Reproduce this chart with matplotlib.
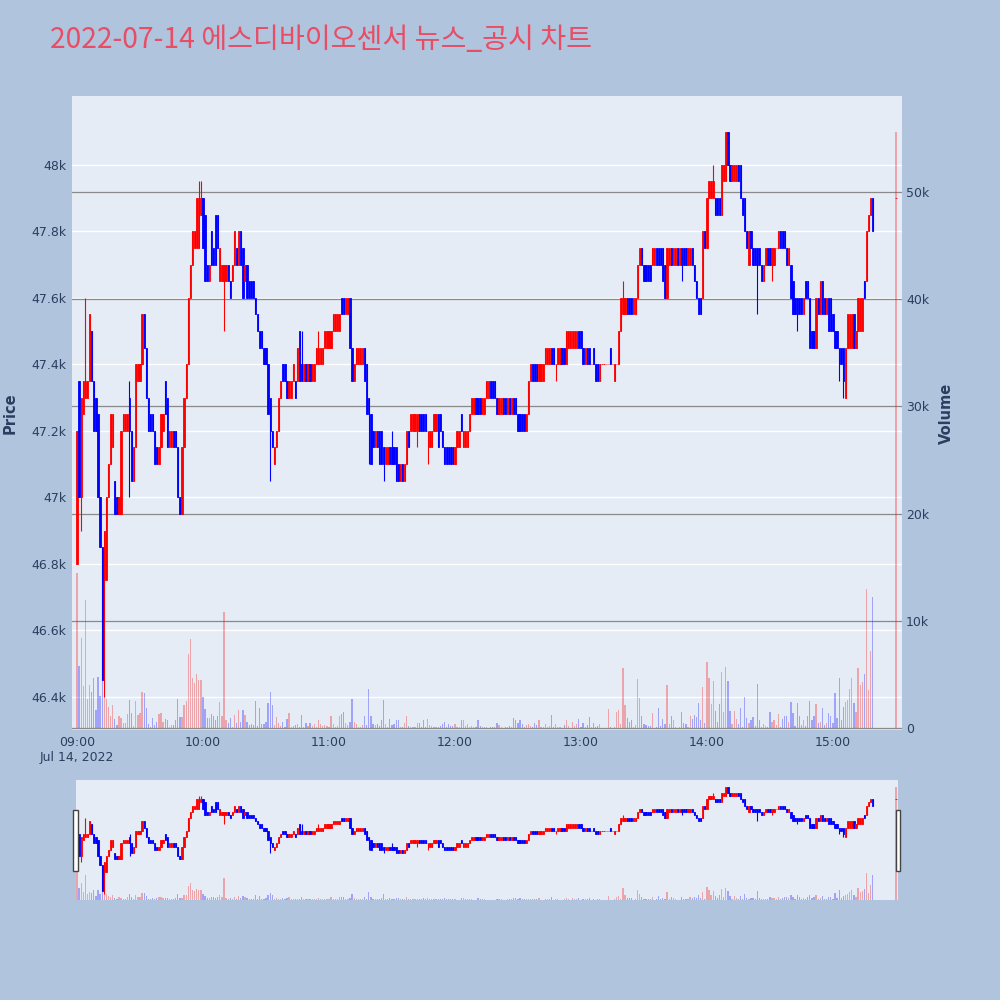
import numpy as np
import matplotlib
matplotlib.use("Agg")
import matplotlib.pyplot as plt
from matplotlib.patches import Rectangle

plt.rcParams['font.family'] = ['DejaVu Sans']

# ---------------- data ----------------
TITLE = "2022-07-14 에스디바이오센서 뉴스_공시 차트"

# minutes after 09:00 (09:00..15:19, then closing auction at 15:30)
minutes = list(range(0, 380)) + [390]

opens = [
    46800, 47350, 47000, 47250, 47300, 47300, 47350, 47500, 47350, 47300,
    47250, 47000, 46850, 46750, 46750, 47000, 47100, 47150, 47050, 47000,
    46950, 46950, 47200, 47200, 47200, 47300, 47200, 47050, 47150, 47350,
    47350, 47400, 47550, 47450, 47300, 47250, 47250, 47200, 47150, 47100,
    47150, 47200, 47350, 47300, 47150, 47150, 47200, 47200, 47150, 47000,
    46950, 47150, 47300, 47400, 47600, 47700, 47750, 47750, 47750, 47850,
    47900, 47850, 47700, 47650, 47800, 47750, 47850, 47850, 47650, 47650,
    47650, 47650, 47700, 47650, 47650, 47700, 47750, 47700, 47800, 47750,
    47650, 47700, 47650, 47650, 47650, 47600, 47550, 47500, 47500, 47450,
    47450, 47400, 47300, 47200, 47100, 47150, 47200, 47300, 47400, 47400,
    47350, 47300, 47300, 47350, 47350, 47350, 47500, 47400, 47350, 47400,
    47350, 47400, 47350, 47350, 47400, 47400, 47400, 47400, 47450, 47450,
    47450, 47450, 47500, 47500, 47500, 47500, 47600, 47600, 47550, 47550,
    47600, 47450, 47350, 47400, 47400, 47400, 47400, 47450, 47400, 47300,
    47250, 47200, 47150, 47200, 47200, 47200, 47150, 47100, 47100, 47150,
    47150, 47150, 47150, 47100, 47050, 47100, 47050, 47100, 47200, 47200,
    47200, 47200, 47200, 47250, 47250, 47250, 47250, 47200, 47150, 47150,
    47200, 47200, 47250, 47250, 47200, 47150, 47150, 47150, 47150, 47150,
    47100, 47150, 47150, 47250, 47150, 47150, 47150, 47200, 47250, 47250,
    47300, 47300, 47300, 47250, 47250, 47300, 47300, 47350, 47350, 47350,
    47300, 47250, 47250, 47300, 47300, 47250, 47300, 47250, 47300, 47300,
    47250, 47250, 47250, 47250, 47200, 47250, 47350, 47400, 47400, 47400,
    47350, 47350, 47350, 47400, 47400, 47400, 47450, 47450, 47400, 47400,
    47400, 47450, 47450, 47400, 47450, 47450, 47450, 47450, 47450, 47500,
    47500, 47450, 47400, 47450, 47450, 47400, 47450, 47400, 47400, 47350,
    47400, 47400, 47400, 47400, 47450, 47400, 47350, 47400, 47400, 47500,
    47550, 47550, 47600, 47600, 47600, 47550, 47550, 47600, 47700, 47750,
    47700, 47700, 47700, 47700, 47700, 47700, 47750, 47750, 47750, 47750,
    47700, 47600, 47700, 47750, 47700, 47700, 47750, 47700, 47750, 47750,
    47750, 47700, 47700, 47750, 47700, 47650, 47600, 47600, 47600, 47800,
    47750, 47900, 47900, 47900, 47900, 47900, 47900, 47850, 47950, 47950,
    48100, 48000, 47950, 47950, 47950, 48000, 48000, 47900, 47900, 47800,
    47700, 47800, 47750, 47750, 47750, 47750, 47700, 47650, 47700, 47750,
    47750, 47700, 47700, 47750, 47750, 47800, 47800, 47800, 47750, 47700,
    47700, 47650, 47600, 47600, 47600, 47600, 47550, 47650, 47650, 47600,
    47500, 47500, 47450, 47600, 47550, 47650, 47600, 47550, 47600, 47600,
    47550, 47500, 47500, 47450, 47450, 47450, 47300, 47450, 47450, 47450,
    47550, 47450, 47500, 47500, 47500, 47650, 47650, 47800, 47850, 47900,
    47900,
]

closes = [
    47200, 47000, 47300, 47350, 47350, 47350, 47550, 47350, 47200, 47200,
    47000, 46850, 46450, 46900, 47000, 47100, 47250, 47250, 46950, 46950,
    47000, 47200, 47250, 47250, 47250, 47200, 47050, 47150, 47400, 47400,
    47400, 47550, 47450, 47300, 47200, 47200, 47200, 47100, 47100, 47150,
    47250, 47250, 47250, 47150, 47200, 47200, 47150, 47150, 47000, 46950,
    47150, 47300, 47400, 47600, 47700, 47800, 47800, 47900, 47900, 47900,
    47750, 47650, 47650, 47700, 47700, 47700, 47700, 47750, 47750, 47700,
    47700, 47700, 47650, 47600, 47700, 47800, 47700, 47800, 47700, 47600,
    47700, 47600, 47600, 47600, 47600, 47550, 47500, 47450, 47450, 47400,
    47400, 47250, 47200, 47150, 47150, 47200, 47300, 47350, 47350, 47350,
    47300, 47350, 47350, 47400, 47300, 47450, 47350, 47350, 47400, 47350,
    47400, 47350, 47400, 47400, 47450, 47450, 47450, 47450, 47500, 47500,
    47500, 47500, 47550, 47550, 47550, 47550, 47550, 47550, 47600, 47600,
    47450, 47350, 47400, 47450, 47450, 47450, 47450, 47350, 47250, 47250,
    47100, 47150, 47200, 47150, 47100, 47100, 47100, 47150, 47150, 47100,
    47100, 47100, 47050, 47050, 47100, 47050, 47100, 47200, 47150, 47250,
    47250, 47250, 47250, 47200, 47200, 47200, 47200, 47200, 47200, 47200,
    47250, 47250, 47150, 47200, 47150, 47100, 47100, 47100, 47100, 47100,
    47150, 47200, 47200, 47200, 47200, 47200, 47200, 47250, 47300, 47300,
    47250, 47250, 47250, 47300, 47300, 47350, 47350, 47300, 47300, 47300,
    47250, 47300, 47300, 47250, 47250, 47300, 47250, 47300, 47250, 47250,
    47200, 47200, 47200, 47200, 47250, 47350, 47400, 47350, 47350, 47350,
    47400, 47400, 47400, 47450, 47450, 47450, 47400, 47400, 47400, 47450,
    47450, 47400, 47400, 47500, 47500, 47500, 47500, 47500, 47500, 47450,
    47450, 47400, 47450, 47400, 47400, 47400, 47400, 47350, 47350, 47400,
    47400, 47400, 47400, 47400, 47400, 47400, 47400, 47400, 47500, 47600,
    47600, 47600, 47550, 47550, 47550, 47600, 47600, 47700, 47750, 47700,
    47650, 47650, 47650, 47650, 47750, 47750, 47700, 47700, 47700, 47650,
    47600, 47750, 47750, 47700, 47750, 47750, 47700, 47750, 47700, 47700,
    47700, 47750, 47750, 47700, 47650, 47600, 47550, 47550, 47800, 47750,
    47900, 47950, 47950, 47950, 47850, 47850, 47850, 48000, 48000, 48100,
    48000, 47950, 48000, 48000, 48000, 47950, 47900, 47850, 47800, 47750,
    47800, 47750, 47700, 47700, 47700, 47700, 47650, 47700, 47750, 47700,
    47700, 47750, 47750, 47750, 47800, 47750, 47750, 47750, 47700, 47750,
    47600, 47550, 47550, 47550, 47550, 47550, 47600, 47600, 47600, 47450,
    47450, 47450, 47600, 47550, 47650, 47550, 47550, 47600, 47500, 47500,
    47500, 47450, 47450, 47400, 47400, 47350, 47450, 47550, 47550, 47550,
    47450, 47500, 47600, 47600, 47600, 47600, 47800, 47850, 47900, 47800,
    47900,
]

# extra wick extremes (minute index -> price)
extra_high = {4: 47600, 25: 47350, 58: 47950, 59: 47950, 66: 47850, 67: 47850,
              107: 47500, 115: 47500, 150: 47200, 260: 47650, 303: 48000}
extra_low = {2: 46900, 13: 46400, 25: 47000, 70: 47500, 92: 47050, 139: 47100,
             146: 47050, 162: 47150, 167: 47100, 228: 47350, 288: 47650,
             324: 47550, 331: 47650, 343: 47500, 363: 47350, 365: 47300}

# volume in thousands of shares
volume_k = [
    14.5, 5.8, 8.4, 3.9, 11.9, 2.7, 4.0, 3.4, 4.7, 1.7,
    4.8, 3.0, 4.5, 2.9, 2.7, 2.0, 1.1, 2.1, 0.8, 0.3,
    1.1, 0.9, 0.5, 0.5, 1.3, 2.6, 1.4, 0.2, 2.5, 1.2,
    1.4, 3.4, 3.3, 1.9, 0.4, 0.1, 0.9, 0.3, 0.6, 1.3,
    1.4, 0.6, 0.8, 0.7, 0.1, 0.3, 0.3, 0.75, 2.7, 1.0,
    1.0, 2.1, 2.5, 6.9, 8.3, 4.7, 4.2, 5.0, 4.5, 4.5,
    2.9, 1.8, 0.9, 0.9, 1.3, 1.1, 0.75, 1.1, 2.4, 1.1,
    10.8, 0.7, 0.5, 0.9, 0.1, 1.2, 0.5, 1.7, 0.6, 1.7,
    1.2, 0.6, 0.3, 0.4, 0.3, 2.5, 0.2, 1.9, 0.4, 0.4,
    0.6, 2.3, 3.4, 2.1, 0.3, 1.0, 0.5, 0.2, 0.6, 0.1,
    0.8, 1.4, 0.1, 0.2, 0.3, 0.4, 0.1, 1.2, 0.1, 0.5,
    0.2, 0.5, 0.2, 0.4, 0.1, 0.7, 0.4, 0.2, 0.3, 0.2,
    0.1, 1.1, 0.4, 0.1, 0.2, 1.1, 1.3, 1.5, 0.5, 0.3,
    0.6, 2.7, 0.6, 0.4, 0.1, 0.1, 0.3, 1.1, 0.3, 3.6,
    1.1, 0.4, 0.3, 0.4, 0.2, 0.7, 2.6, 0.4, 0.1, 0.8,
    0.25, 0.4, 0.75, 0.75, 0.1, 0.1, 0.5, 1.1, 0.2, 0.1,
    0.1, 0.1, 0.5, 0.5, 0.1, 0.7, 0.1, 0.8, 0.3, 0.2,
    0.1, 0.1, 0.1, 0.2, 0.4, 0.6, 0.1, 0.35, 0.2, 0.2,
    0.35, 0.05, 0.05, 0.7, 0.7, 0.2, 0.35, 0.1, 0.2, 0.05,
    0.05, 0.7, 0.2, 0.1, 0.1, 0.05, 0.0, 0.05, 0.05, 0.05,
    0.5, 0.3, 0.1, 0.0, 0.05, 0.1, 0.2, 0.1, 0.9, 0.75,
    0.5, 0.75, 0.4, 0.1, 0.3, 0.4, 0.2, 0.1, 0.5, 0.3,
    0.75, 0.05, 0.05, 0.35, 0.1, 0.2, 1.2, 0.05, 0.4, 0.1,
    0.05, 0.0, 0.3, 0.7, 0.2, 0.0, 0.6, 0.2, 0.4, 0.8,
    0.05, 0.5, 0.1, 0.3, 1.0, 0.05, 0.5, 0.05, 0.2, 0.4,
    0.0, 0.0, 0.0, 1.75, 0.05, 0.0, 0.1, 1.5, 1.7, 0.4,
    5.6, 2.1, 0.9, 0.6, 0.7, 0.05, 0.3, 4.6, 2.8, 1.1,
    0.4, 0.3, 0.2, 0.2, 1.4, 0.0, 0.1, 1.9, 0.2, 0.85,
    0.4, 4.0, 0.4, 1.1, 0.75, 0.1, 0.0, 0.05, 1.5, 0.5,
    0.4, 0.1, 1.1, 0.85, 1.2, 1.0, 2.3, 0.7, 3.8, 0.5,
    6.2, 4.7, 2.2, 4.4, 1.6, 0.6, 2.2, 5.2, 1.5, 5.7,
    4.4, 1.6, 0.4, 1.6, 0.85, 0.4, 1.9, 0.1, 2.9, 0.9,
    0.5, 0.7, 1.0, 0.2, 4.1, 0.7, 0.1, 0.4, 0.2, 0.1,
    1.5, 0.6, 0.75, 0.3, 1.3, 0.1, 0.85, 1.1, 1.1, 0.6,
    2.4, 1.4, 0.2, 2.3, 1.1, 0.3, 0.75, 0.2, 1.1, 2.5,
    0.75, 1.1, 2.2, 0.5, 0.6, 1.9, 0.3, 0.5, 1.4, 1.1,
    0.5, 3.3, 0.9, 4.7, 0.75, 2.0, 2.4, 2.6, 3.6, 4.7,
    2.3, 1.5, 5.6, 4.0, 4.3, 5.0, 13.0, 3.5, 7.2, 12.2,
    55.6,
]

price_ticks = [46400, 46600, 46800, 47000, 47200, 47400, 47600, 47800, 48000]
price_tick_labels = ['46.4k', '46.6k', '46.8k', '47k', '47.2k', '47.4k', '47.6k', '47.8k', '48k']
volume_ticks = [0, 10000, 20000, 30000, 40000, 50000]
volume_tick_labels = ['0', '10k', '20k', '30k', '40k', '50k']
time_ticks = [0, 60, 120, 180, 240, 300, 360]
time_tick_labels = ['09:00\nJul 14, 2022', '10:00', '11:00', '12:00', '13:00', '14:00', '15:00']

# ---------------- style ----------------
PAGE_BG = '#B0C4DE'
PLOT_BG = '#E5ECF6'
UP = '#FF0000'
DOWN = '#0000FF'
TXT = '#2a3f5f'
PRICE_LIM = (46300, 48207)
VOL_LIM = (-187, 58955)

x = np.array(minutes, dtype=float)
o = np.array(opens, dtype=float)
c = np.array(closes, dtype=float)
vol = np.array(volume_k) * 1000.0
hi = np.maximum(o, c)
lo = np.minimum(o, c)
for k, v in extra_high.items():
    hi[k] = max(hi[k], v)
for k, v in extra_low.items():
    lo[k] = min(lo[k], v)
up = c >= o
cols = np.where(up, UP, DOWN)

fig = plt.figure(figsize=(10, 10), dpi=100, facecolor=PAGE_BG)


def make_stack(rect, xlim):
    ax_bg = fig.add_axes(rect)
    ax_v = fig.add_axes(rect, sharex=ax_bg)
    ax_p = fig.add_axes(rect, sharex=ax_bg)
    ax_bg.set_facecolor(PLOT_BG)
    for a in (ax_v, ax_p):
        a.patch.set_visible(False)
    for a in (ax_bg, ax_v, ax_p):
        for s in a.spines.values():
            s.set_visible(False)
        a.tick_params(length=0)
    ax_bg.set_xlim(*xlim)
    ax_bg.set_ylim(*PRICE_LIM)
    ax_p.set_ylim(*PRICE_LIM)
    ax_v.set_ylim(*VOL_LIM)
    return ax_bg, ax_v, ax_p


def draw_data(ax_v, ax_p, body_w, edge_lw):
    ax_v.bar(x, vol, width=0.6, color=cols, alpha=0.3, linewidth=0, zorder=2)
    ax_p.vlines(x, lo, hi, colors=cols, linewidth=0.8, zorder=3)
    ax_p.bar(x, c - o, bottom=o, width=body_w, color=cols, edgecolor=cols,
             linewidth=edge_lw, zorder=4)


# main chart
main_rect = [0.072, 0.27, 0.83, 0.634]
m_bg, m_v, m_p = make_stack(main_rect, (-2.38, 392.9))

m_bg.set_yticks(price_ticks)
m_bg.set_yticklabels(price_tick_labels)
m_bg.yaxis.grid(True, color='white', linewidth=1.0)
m_bg.xaxis.grid(False)
m_bg.set_axisbelow(True)
m_bg.set_xticks(time_ticks)
m_bg.set_xticklabels(time_tick_labels)
m_bg.tick_params(axis='y', pad=4, labelsize=9, labelcolor=TXT)
m_bg.tick_params(axis='x', pad=4, labelsize=9, labelcolor=TXT)

m_v.yaxis.tick_right()
m_v.set_yticks(volume_ticks)
m_v.set_yticklabels(volume_tick_labels)
m_v.yaxis.grid(True, color='#8a8a8a', linewidth=0.9)
m_v.set_axisbelow(True)
m_v.tick_params(axis='y', pad=3, labelsize=9, labelcolor=TXT)
m_v.tick_params(axis='x', labelbottom=False)

m_p.tick_params(labelleft=False, labelbottom=False)
m_p.set_yticks([])

draw_data(m_v, m_p, 0.6, 0.6)

# range-slider style navigator
nav_rect = [0.076, 0.10, 0.822, 0.12]
n_bg, n_v, n_p = make_stack(nav_rect, (-0.48, 391.0))
for a in (n_bg, n_v, n_p):
    a.set_xticks([])
    a.set_yticks([])
draw_data(n_v, n_p, 0.6, 0.6)

# navigator handles
for hx in (0.0733, 0.8955):
    fig.patches.append(Rectangle((hx, 0.129), 0.0044, 0.061, transform=fig.transFigure,
                                 facecolor='white', edgecolor='#444444',
                                 linewidth=1.0, zorder=10))

# texts
fig.text(0.05, 0.96, TITLE, fontsize=20.3, color='#E84D66', ha='left', va='center',
         family=['Noto Sans CJK KR', 'DejaVu Sans'])
fig.text(0.010, 0.587, 'Price', rotation=90, fontsize=10.5, fontweight='bold',
         color=TXT, ha='center', va='center')
fig.text(0.946, 0.587, 'Volume', rotation=90, fontsize=10.5, fontweight='bold',
         color=TXT, ha='center', va='center')

fig.savefig('out.png', dpi=100, facecolor=PAGE_BG)
